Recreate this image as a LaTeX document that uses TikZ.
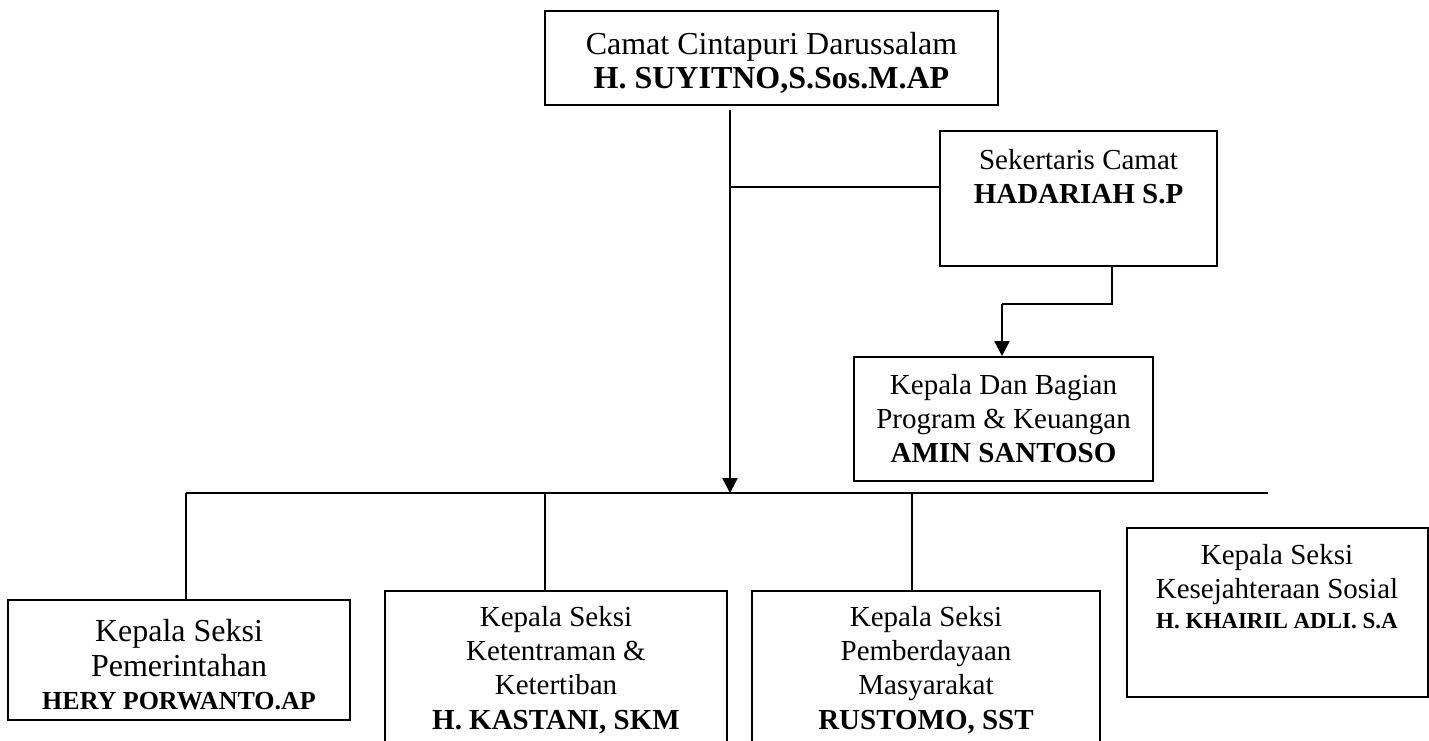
\documentclass[tikz,border=0pt]{standalone}
\usepackage{fontspec}
\setmainfont{Liberation Serif}
\usetikzlibrary{arrows.meta}
\begin{document}
\begin{tikzpicture}[x=1pt,y=-1pt,
  box/.style={draw,line width=2pt,anchor=north,inner xsep=0pt,inner ysep=0pt,align=center},
  conn/.style={line width=2pt},
  arr/.style={line width=2.5pt,-{Triangle[width=15pt,length=15pt]}},
  f29/.style={font=\fontsize{29}{34}\selectfont},
  f32/.style={font=\fontsize{32}{35}\selectfont}]
\path[use as bounding box] (0,0) rectangle (1429,740);
\clip (0,0) rectangle (1429,740);

% boxes (text height = distance from box top to the baseline of the last line)
\node[box,f32,minimum width=453pt,text height=77pt,text depth=17pt] (top) at (771.5,10)
  {Camat Cintapuri Darussalam\\[-1pt] \textbf{H. SUYITNO,S.Sos.M.AP}};
\node[box,f29,minimum width=277pt,text height=72pt,text depth=63pt] (sek) at (1078.5,130)
  {Sekertaris Camat\\ \textbf{HADARIAH S.P}};
\node[box,f29,minimum width=299pt,text height=105pt,text depth=19pt] (kdb) at (1003.5,356)
  {Kepala Dan Bagian\\ Program \& Keuangan\\ \textbf{AMIN SANTOSO}};
\node[box,f32,minimum width=342pt,text height=109pt,text depth=11pt] (b1) at (179,599)
  {Kepala Seksi\\ Pemerintahan\\[-2pt] {\fontsize{26}{30}\selectfont\bfseries HERY PORWANTO.AP}};
\node[box,f29,minimum width=342pt,text height=138pt,text depth=32pt] (b2) at (556,590)
  {Kepala Seksi\\ Ketentraman \&\\ Ketertiban\\[1pt] \textbf{H. KASTANI, SKM}};
\node[box,f29,minimum width=348pt,text height=138pt,text depth=32pt] (b3) at (926,590)
  {Kepala Seksi\\ Pemberdayaan\\ Masyarakat\\[1pt] \textbf{RUSTOMO, SST}};
\node[box,f29,minimum width=301pt,text height=100pt,text depth=69pt] (b4) at (1277,527)
  {Kepala Seksi\\ Kesejahteraan Sosial\\[-4pt] {\fontsize{23}{27}\selectfont\bfseries H. KHAIRIL ADLI. S.A}};

% connector points
\coordinate (v1) at (730,110);
\coordinate (bus) at (730,493);
\coordinate (j1) at (730,187);
\coordinate (s1) at (1112,265);
\coordinate (busL) at (186,493);
\coordinate (busR) at (1268,493);
\coordinate (d2) at (545,493);
\coordinate (d3) at (912,493);

% connectors
\draw[arr] (v1) -- (bus);
\draw[conn] (j1) -- (j1 -| sek.west);
\draw[conn] (s1) |- (1002,304);
\draw[arr] (1002,304) -- (1002,356);
\draw[conn] (busL) -- (busR);
\draw[conn] (busL) -- (busL |- b1.north);
\draw[conn] (d2) -- (d2 |- b2.north);
\draw[conn] (d3) -- (d3 |- b3.north);
\end{tikzpicture}
\end{document}
